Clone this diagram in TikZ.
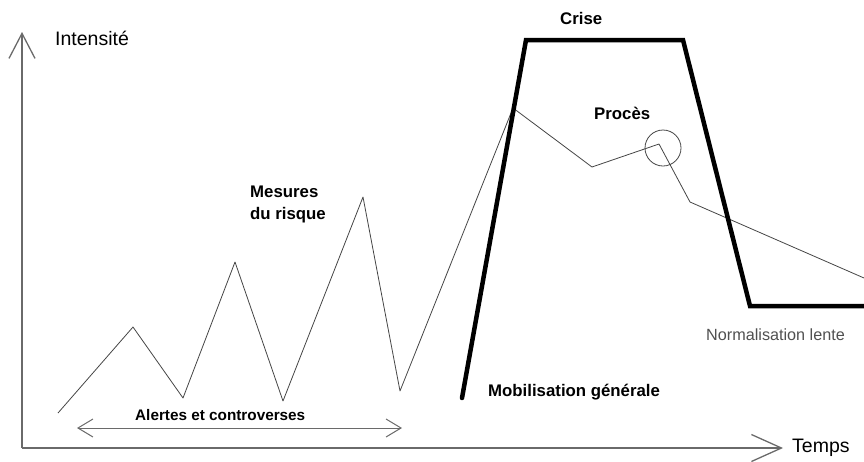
\documentclass[tikz,border=0pt]{standalone}
\usepackage{fontspec}
\setmainfont{Liberation Sans}
\usetikzlibrary{arrows.meta}
\definecolor{axisgray}{HTML}{6A6A6A}
\definecolor{linegray}{HTML}{454545}
\definecolor{textgray}{HTML}{505050}
\begin{document}
\begin{tikzpicture}[x=1pt, y=-1pt,
      axis/.style={draw=axisgray, line width=1.3pt},
      thin/.style={draw=linegray, line width=0.8pt, line join=round},
      crisis/.style={draw=black, line width=4.5pt, line cap=round, line join=miter},
      lbl/.style={inner sep=0pt, anchor=base west},
      big/.style={lbl, font=\fontsize{19.5}{22}\selectfont},
      bold/.style={lbl, font=\fontsize{16.8}{22}\selectfont\bfseries},
      small/.style={lbl, font=\fontsize{15.3}{18}\selectfont\bfseries}
    ]
    \useasboundingbox (0,0) rectangle (864,461);

    % axes
    \coordinate (O) at (22,448);
    \coordinate (Ytip) at (22,32);
    \coordinate (Xtip) at (783,448);
    \draw[axis, -{Straight Barb[length=25pt,width=26pt]}] (O) -- (Ytip);
    \draw[axis, -{Straight Barb[length=30pt,width=27pt]}] (O) -- (Xtip);
    \node[big] (intens) at (55,45) {Intensité};
    \node[big] (temps) at (792,452) {Temps};

    % alerts and controversies
    \coordinate (A1) at (77,428);
    \coordinate (A2) at (402,428);
    \draw[axis, line width=1pt, {Straight Barb[length=15pt,width=18pt]}-{Straight Barb[length=15pt,width=18pt]}] (A1) -- (A2);
    \node[small] (alertes) at (135,420) {Alertes et controverses};

    % thin curve (risk measures, trial)
    \coordinate (T0) at (58,413);
    \coordinate (T1) at (133,327);
    \coordinate (T2) at (183,398);
    \coordinate (T3) at (235,262);
    \coordinate (T4) at (283,401);
    \coordinate (T5) at (363,197);
    \coordinate (T6) at (400,391);
    \coordinate (T7) at (513,108);
    \coordinate (T8) at (592,167);
    \coordinate (T9) at (659,144);
    \coordinate (T10) at (690,202);
    \coordinate (T11) at (864,278);
    \draw[thin] (T0) -- (T1) -- (T2) -- (T3) -- (T4) -- (T5) -- (T6)
      -- (T7) -- (T8) -- (T9) -- (T10) -- (T11);
    \node[bold] (mesures) at (250,197) {Mesures};
    \node[bold] (risque) at (250,219) {du risque};

    % crisis
    \coordinate (K0) at (462,398);
    \coordinate (K1) at (526,40);
    \coordinate (K2) at (683,40);
    \coordinate (K3) at (750,306);
    \coordinate (K4) at (866,306);
    \draw[crisis] (K0) -- (K1) -- (K2) -- (K3) -- (K4);
    \node[bold] (crise) at (560,24) {Crise};
    \node[bold] (proces) at (594,119) {Procès};
    \node[draw=linegray, line width=0.8pt, circle, minimum size=36pt, inner sep=0pt] (cercle) at (663,148) {};
    \node[bold] (mobil) at (488,396) {Mobilisation générale};
    \node[lbl, font=\fontsize{16.2}{18}\selectfont, text=textgray] (normal) at (706,340) {Normalisation lente};

\end{tikzpicture}
\end{document}
